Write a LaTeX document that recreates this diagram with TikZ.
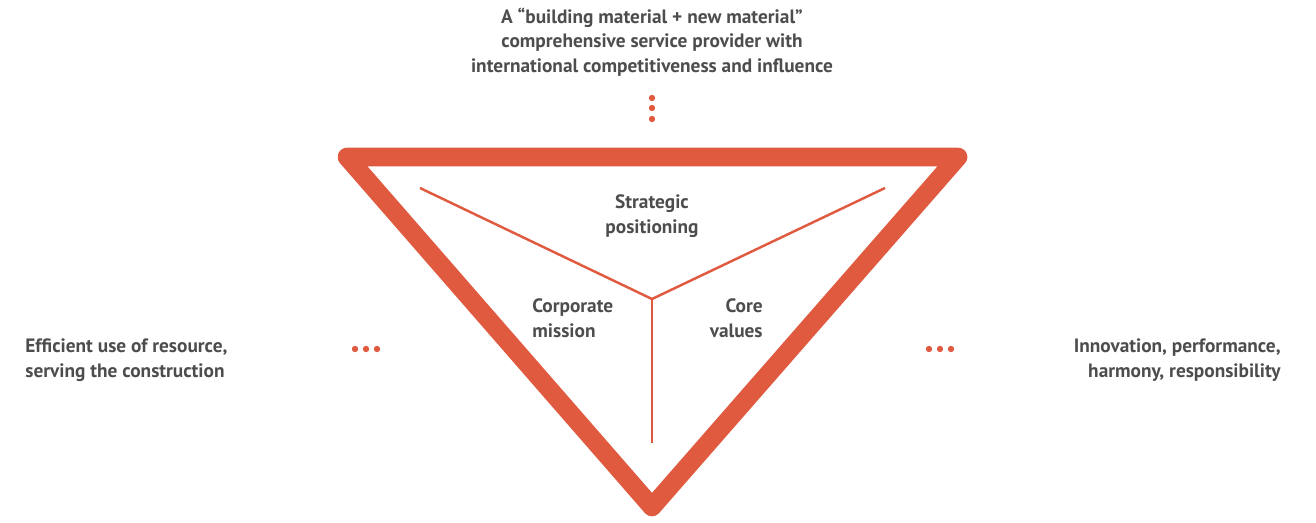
\documentclass[tikz,border=0pt]{standalone}
\usepackage{fontspec}
\setmainfont{PT Sans}
\usepackage{xcolor}
\usepackage{tikz}
\definecolor{rojo}{HTML}{E05A40}
\definecolor{gristexto}{HTML}{4D4D4D}
\newcommand{\textoc}[1]{\begin{tabular}{@{}c@{}}#1\end{tabular}}
\newcommand{\textol}[1]{\begin{tabular}{@{}l@{}}#1\end{tabular}}
\newcommand{\textor}[1]{\begin{tabular}{@{}r@{}}#1\end{tabular}}
\tikzset{
  etiqueta/.style={inner sep=0pt, text=gristexto,
    font=\fontsize{11}{13.9}\selectfont\bfseries},
  punto/.style={fill=rojo, draw=none},
}

\begin{document}
\begin{tikzpicture}[x=0.02cm, y=-0.02cm]
  \useasboundingbox (0,0) rectangle (1316,522);
  \coordinate (izq)    at (347,157);
  \coordinate (der)    at (958,157);
  \coordinate (abajo)  at (652,507);
  \coordinate (centro) at (652,299);
  \coordinate (ri)     at (420,188);
  \coordinate (rd)     at (885,188);
  \coordinate (rb)     at (652,443);
  % triangulo
  \draw [rojo, line width=10.6pt, line join=round] (izq) -- (der) -- (abajo) -- cycle;
  \path [rojo, line width=1.4pt] (centro) edge (ri)
                                 (centro) edge (rd)
                                 (centro) edge (rb);
  % textos
  \node [etiqueta] (vision) at (652,43) {\textoc{A \textquotedblleft building material + new material\textquotedblright\\ comprehensive service provider with\\ international competitiveness and influence}};
  \node [etiqueta] (estrategia) at (652,216) {\textoc{Strategic\\ positioning}};
  \node [etiqueta, anchor=west] (mision) at (532,320) {\textol{Corporate\\ mission}};
  \node [etiqueta, anchor=east] (valores) at (763,320) {\textor{Core\\ values}};
  \node [etiqueta, anchor=west] (recurso) at (25,360) {\textol{Efficient use of resource,\\ serving the construction}};
  \node [etiqueta, anchor=east] (innova) at (1281,360) {\textor{Innovation, performance,\\ harmony, responsibility}};
  % puntos
  \foreach \y in {98,108,119} \fill [punto] (652,\y) circle (3.2);
  \foreach \x in {355,366,377} \fill [punto] (\x,349) circle (3.2);
  \foreach \x in {929,940,951} \fill [punto] (\x,349) circle (3.2);
\end{tikzpicture}
\end{document}
